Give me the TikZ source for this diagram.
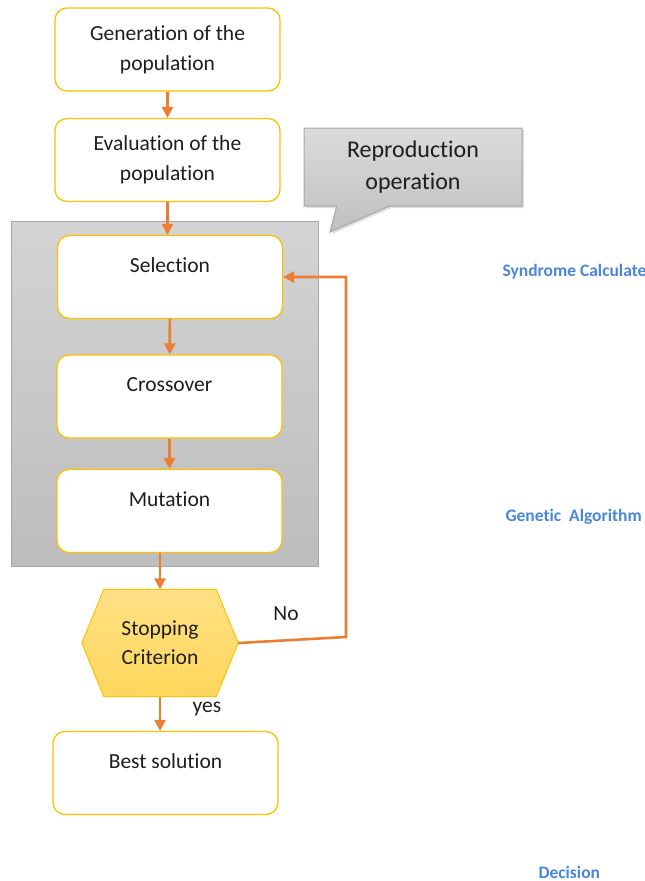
\documentclass[tikz,border=0pt]{standalone}
\usepackage{fontspec}
\setmainfont{Carlito}[Ligatures=NoCommon]
\usetikzlibrary{arrows.meta,shapes.callouts,shadows,backgrounds}
\definecolor{gaorange}{HTML}{ED7D31}
\definecolor{gagold}{HTML}{FFC000}
\definecolor{gatext}{HTML}{1E1E1E}
\definecolor{gablue}{HTML}{4A86D8}
\begin{document}
\begin{tikzpicture}[x=1pt,y=-1pt,
    stepbox/.style={draw=gagold,fill=white,rounded corners=12pt,line width=1.3pt,minimum width=225pt,minimum height=83pt,align=center,font=\fontsize{21.5}{30}\selectfont,text=gatext},
    opbox/.style={stepbox,text height=16pt,text depth=26pt},
    flow/.style={draw=gaorange,line width=2.6pt,-{Triangle[length=11pt,width=11pt]}},
    tag/.style={font=\bfseries\fontsize{17.5}{20}\selectfont,text=gablue},
    hexa/.style={draw=gagold,line width=1pt,top color=gagold!48,bottom color=gagold!64}
]
    \useasboundingbox (0,0) rectangle (645,881);
    % reproduction block
    \draw[draw=black!35,top color=black!17,bottom color=black!26,line width=1pt] (11,221) rectangle (318,566);
    \node[rectangle callout,draw=black!35,top color=black!14,bottom color=black!25,line width=1pt,
          minimum width=218pt,minimum height=78pt,callout absolute pointer={(330,232)},callout pointer width=53pt,
          drop shadow={opacity=0.25,shadow xshift=2pt,shadow yshift=-2pt},
          align=center,font=\fontsize{24}{32}\selectfont,text=gatext] (repro) at (413,167) {Reproduction\\operation};

    \node[stepbox] (gen) at (167.5,49.5) {Generation of the\\population};
    \node[stepbox] (eval) at (167.5,160) {Evaluation of the\\population};
    \node[opbox] (sel) at (170,277) {Selection};
    \node[opbox] (cross) at (169.5,396.5) {Crossover};
    \node[opbox] (mut) at (169.5,511) {Mutation};
    \node[minimum width=156pt,minimum height=107pt,align=center,font=\fontsize{21.5}{29}\selectfont,text=gatext] (stop) at (160,643) {Stopping\\Criterion};
    \begin{scope}[on background layer]
        \draw[hexa] (stop.west) -- ([xshift=22pt]stop.north west) -- ([xshift=-22pt]stop.north east) -- (stop.east)
            -- ([xshift=-22pt]stop.south east) -- ([xshift=22pt]stop.south west) -- cycle;
    \end{scope}
    \node[opbox] (best) at (165.5,773) {Best solution};

    \draw[flow] (gen) -- (eval);
    \draw[flow] (eval.south) -- (eval.south |- sel.north);
    \draw[flow] (sel) -- (cross);
    \draw[flow] (cross) -- (mut);
    \draw[flow] (stop.north |- mut.south) -- (stop.north);
    \draw[flow] (stop.south) -- (stop.south |- best.north);
    \coordinate (loop) at (346,637);
    \draw[flow] (stop.east) -- (loop) |- (sel.east);

    \node[font=\fontsize{21.5}{24}\selectfont,text=gatext] (no) at (286,614) {No};
    \node[font=\fontsize{21.5}{24}\selectfont,text=gatext] (yes) at (207,709) {yes};

    \node[tag,anchor=west] (synd) at (499,272) {Syndrome Calculate};
    \node[tag,anchor=west] (ga) at (502,517) {Genetic\ \ Algorithm};
    \node[tag,anchor=west] (dec) at (535,872) {Decision};
\end{tikzpicture}
\end{document}
